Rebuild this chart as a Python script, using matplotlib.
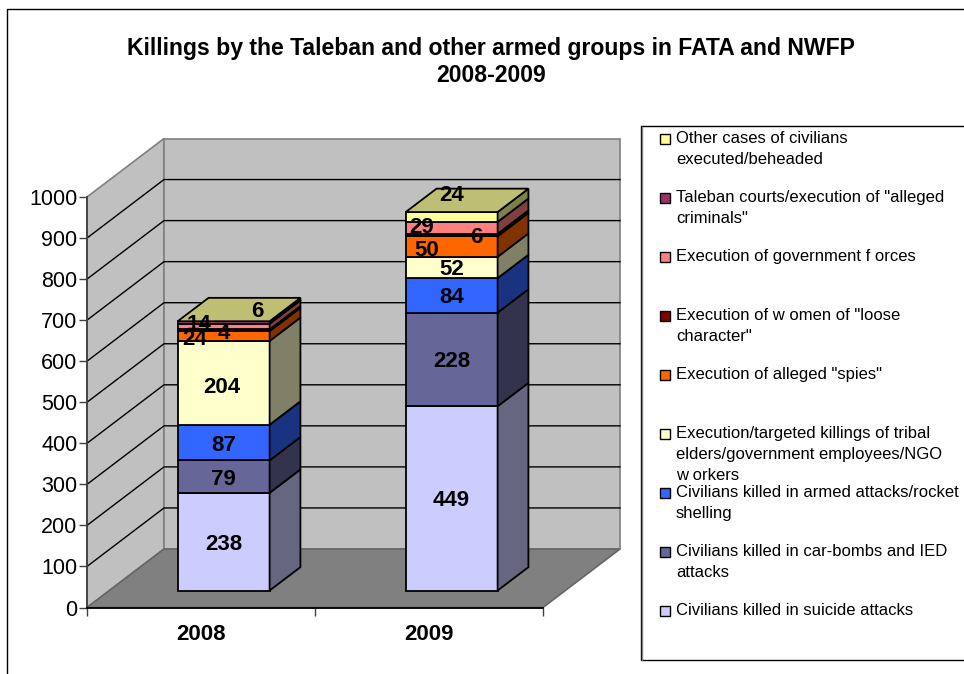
import matplotlib
matplotlib.use('Agg')
from matplotlib import pyplot as plt
from matplotlib.patches import Polygon, Rectangle

plt.rcParams['font.family'] = ['Liberation Sans', 'DejaVu Sans']

years = ['2008', '2009']
suicide = [238, 449]
car_bombs = [79, 228]
armed_attacks = [87, 84]
tribal_elders = [204, 52]
spies = [24, 50]
women = [4, 6]
gov_forces = [14, 29]
courts = [6, 0]
other = [0, 24]

series = [suicide, car_bombs, armed_attacks, tribal_elders, spies, women, gov_forces, courts, other]
front = ['#CCCCFF', '#666699', '#3366FF', '#FFFFCC', '#FF6600', '#800000', '#FF8080', '#993366', '#FFFF99']
side = ['#666680', '#33334D', '#1A3380', '#808066', '#803300', '#400000', '#804040', '#4D1A33', '#80804D']
legend_labels = ['Civilians killed in suicide attacks',
                 'Civilians killed in car-bombs and IED\nattacks',
                 'Civilians killed in armed attacks/rocket\nshelling',
                 'Execution/targeted killings of tribal\nelders/government employees/NGO\nw orkers',
                 'Execution of alleged "spies"',
                 'Execution of w omen of "loose\ncharacter"',
                 'Execution of government f orces',
                 'Taleban courts/execution of "alleged\ncriminals"',
                 'Other cases of civilians\nexecuted/beheaded']
# label shifts in pixels, the small segments do not sit in the middle
shifts = [[(0, 0), (0, 0), (0, 0), (-2, -2), (-29, -1), (0, -1), (-24, 5), (34, 13), (0, 0)],
          [(0, 0), (0, 0), (0, 0), (0, 0), (-25, -1), (25, 0), (-30, 3), (0, 0), (0, 24)]]

fig = plt.figure(figsize=(9.64, 6.74), dpi=100)

# overlay in pixels for frame, title and legend
over = fig.add_axes([0, 0, 1, 1])
over.set_xlim(0, 964)
over.set_ylim(674, 0)
over.axis('off')
over.plot([7, 7, 964], [674, 9, 9], color='black', lw=1)
over.text(491, 48, 'Killings by the Taleban and other armed groups in FATA and NWFP',
          ha='center', va='center', fontsize=16.55, fontweight='bold')
over.text(491, 76, '2008-2009', ha='center', va='center', fontsize=16.55, fontweight='bold')
over.plot([964, 641, 641, 964], [126, 126, 660, 660], color='black', lw=1)
over.plot([642, 642], [127, 660], color='#808080', lw=1)
for i, lab in enumerate(legend_labels):
    y = 610 - i * 59
    over.add_patch(Rectangle((659.5, y - 4.5), 10.5, 10.5, fc=front[i], ec='black', lw=1))
    over.text(676, y - 7, lab, ha='left', va='top', fontsize=12.0, linespacing=1.52)

# real axes sit on the front plane of the 3d box
ax = fig.add_axes([87 / 964, 1 - 607.5 / 674, 456 / 964, 410.5 / 674])
ax.set_xlim(0, 2)
ax.set_ylim(0, 1000)
ax.patch.set_visible(False)

dx = 77 / 228
dy = 142.5


def proj(x, v, d):
    return (x + d * dx, v + d * dy)


def poly(pts, fc, ec='black', lw=1.3, z=3):
    ax.add_patch(Polygon(pts, closed=True, fc=fc, ec=ec, lw=lw, clip_on=False, zorder=z, joinstyle='miter'))


# walls and floor
poly([proj(0, 0, 0), proj(0, 0, 1), proj(0, 1000, 1), proj(0, 1000, 0)], '#C0C0C0', '#808080', 1.2, 1)
poly([proj(0, 0, 1), proj(2, 0, 1), proj(2, 1000, 1), proj(0, 1000, 1)], '#C0C0C0', '#808080', 1.2, 1)
poly([proj(0, 0, 0), proj(2, 0, 0), proj(2, 0, 1), proj(0, 0, 1)], '#808080', '#666666', 1.2, 1.5)
for v in range(100, 1000, 100):
    ax.plot(*zip(proj(0, v, 0), proj(0, v, 1), proj(2, v, 1)), color='black', lw=1, clip_on=False, zorder=2)

# bars
d0 = 0.29
d1 = 0.69
for b in range(len(years)):
    x0 = b + 0.3
    x1 = b + 0.703
    bottom = 0
    for s, vals in enumerate(series):
        top = bottom + vals[b]
        if vals[b] > 0:
            poly([proj(x0, bottom, d0), proj(x1, bottom, d0), proj(x1, top, d0), proj(x0, top, d0)], front[s], z=4)
            poly([proj(x1, bottom, d0), proj(x1, bottom, d1), proj(x1, top, d1), proj(x1, top, d0)], side[s], z=4)
        bottom = top
    poly([proj(x0, bottom, d0), proj(x1, bottom, d0), proj(x1, bottom, d1), proj(x0, bottom, d1)], '#BFBF73', z=4)

    bottom = 0
    for s, vals in enumerate(series):
        if vals[b] > 0:
            ax.annotate(str(vals[b]), proj(b + 0.5, bottom + vals[b] / 2, d0), xytext=shifts[b][s],
                        textcoords='offset pixels', ha='center', va='center_baseline', fontsize=16,
                        fontweight='bold', annotation_clip=False, zorder=6)
        bottom += vals[b]

for name in ['top', 'right']:
    ax.spines[name].set_visible(False)
ax.spines['left'].set_color('#404040')
ax.spines['left'].set_linewidth(1.3)
ax.spines['bottom'].set_linewidth(1.3)
for sp in ax.spines.values():
    sp.set_zorder(2.5)
ax.set_yticks(range(0, 1001, 100))
ax.tick_params(axis='y', labelsize=15.5, length=6, width=1, pad=1, color='#404040')
ax.set_xticks([0, 1, 2])
ax.set_xticklabels([])
ax.set_xticks([0.5, 1.5], labels=years, minor=True)
ax.tick_params(axis='x', which='major', length=6, width=1, color='#404040')
ax.tick_params(axis='x', which='minor', length=0, pad=12, labelsize=16)
for t in ax.get_xticklabels(minor=True):
    t.set_fontweight('bold')

plt.savefig('out.png', dpi=100)
